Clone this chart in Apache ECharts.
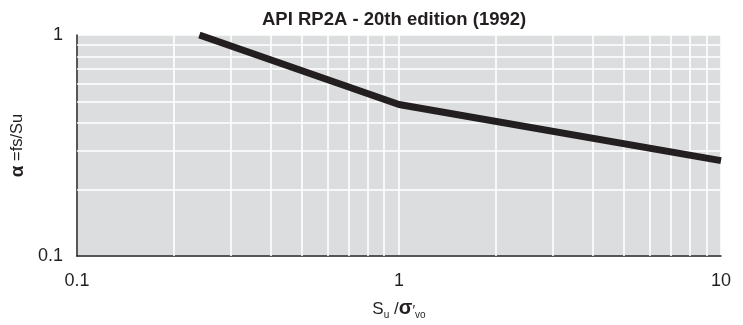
<!DOCTYPE html>
<html>
<head>
<meta charset="utf-8">
<script src="https://cdn.jsdelivr.net/npm/echarts@6/dist/echarts.min.js"></script>
<style>
html,body{margin:0;padding:0;background:#fff;}
#chart{width:743px;height:325px;}
</style>
</head>
<body>
<div id="chart"></div>
<script>
// Data
const suRatio = [0.24, 1, 10];           // Su / σ'vo
const alphaValues = [1.0, 0.485, 0.27];  // α = fs/Su
const xTickLabels = ['0.1', '1', '10'];
const yTickLabels = ['0.1', '1'];
const xGridValues = [0.2, 0.3, 0.4, 0.5, 0.6, 0.7, 0.8, 0.9, 2, 3, 4, 5, 6, 7, 8, 9];
const yGridValues = [0.2, 0.3, 0.4, 0.5, 0.6, 0.7, 0.8, 0.9];

const ink = '#231f20';
const font = '"Liberation Sans", Arial, Helvetica, sans-serif';

const chart = echarts.init(document.getElementById('chart'), null, {renderer: 'canvas'});

const gridLineStyle = {color: '#ffffff', width: 1.6, type: 'solid'};

const markData = xGridValues.map(v => ({xAxis: v}))
  .concat(yGridValues.map(v => ({yAxis: v})));

chart.setOption({
  animation: false,
  textStyle: {fontFamily: font, color: ink},
  title: {
    text: 'API RP2A - 20th edition (1992)',
    left: 257,
    top: 5,
    textStyle: {fontFamily: font, fontSize: 18.5, fontWeight: 'bold', color: ink}
  },
  grid: {
    left: 76, right: 22, top: 35, bottom: 67,
    show: true, backgroundColor: '#dcdddf', borderWidth: 0
  },
  xAxis: {
    type: 'log', logBase: 10, min: 0.1, max: 10,
    name: '{s|S}{sub|u}{s| /}{sig|σ}{pr|′}{sub|vo}',
    nameLocation: 'middle', nameGap: 43,
    nameTextStyle: {
      fontFamily: font, color: ink,
      rich: {
        s: {fontSize: 17, fontFamily: font, color: ink, lineHeight: 19, verticalAlign: 'bottom'},
        sub: {fontSize: 10, fontFamily: font, color: ink, lineHeight: 12, verticalAlign: 'bottom', padding: [0, 0, -2, 0]},
        sig: {fontSize: 20, fontFamily: font, fontWeight: 'bold', color: ink, lineHeight: 19, verticalAlign: 'bottom'},
        pr: {fontSize: 14, fontFamily: font, color: ink, lineHeight: 19, verticalAlign: 'bottom'}
      }
    },
    axisLine: {show: true, lineStyle: {color: ink, width: 1.5}},
    axisTick: {show: false},
    axisLabel: {
      fontSize: 18, fontFamily: font, color: ink, margin: 16,
      formatter: v => {
        const s = String(+(+v).toPrecision(3));
        return xTickLabels.includes(s) ? s : '';
      }
    },
    splitLine: {show: true, lineStyle: gridLineStyle},
    minorTick: {show: false},
    minorSplitLine: {show: false}
  },
  yAxis: {
    type: 'log', logBase: 10, min: 0.1, max: 1,
    name: '{b|α} =fs/Su',
    nameLocation: 'middle', nameGap: 48, nameRotate: 90,
    nameTextStyle: {
      fontFamily: font, fontSize: 16.5, color: ink,
      rich: {
        b: {fontSize: 19, fontWeight: 'bold', fontFamily: font, color: ink}
      }
    },
    axisLine: {show: true, lineStyle: {color: ink, width: 1.5}},
    axisTick: {show: false},
    axisLabel: {
      fontSize: 18, fontFamily: font, color: ink, margin: 14,
      formatter: v => {
        const s = String(+(+v).toPrecision(3));
        return yTickLabels.includes(s) ? s : '';
      }
    },
    splitLine: {show: true, lineStyle: gridLineStyle}
  },
  series: [
    {
      type: 'line',
      z: 1,
      data: suRatio.map((x, i) => [x, alphaValues[i]]),
      symbol: 'none',
      silent: true,
      lineStyle: {opacity: 0},
      markLine: {
        silent: true,
        symbol: ['none', 'none'],
        label: {show: false},
        lineStyle: gridLineStyle,
        animation: false,
        data: markData
      }
    },
    {
      type: 'line',
      zlevel: 1,
      z: 3,
      data: suRatio.map((x, i) => [x, alphaValues[i]]),
      symbol: 'none',
      lineStyle: {color: ink, width: 7, cap: 'butt', join: 'round'}
    }
  ]
});
</script>
</body>
</html>
